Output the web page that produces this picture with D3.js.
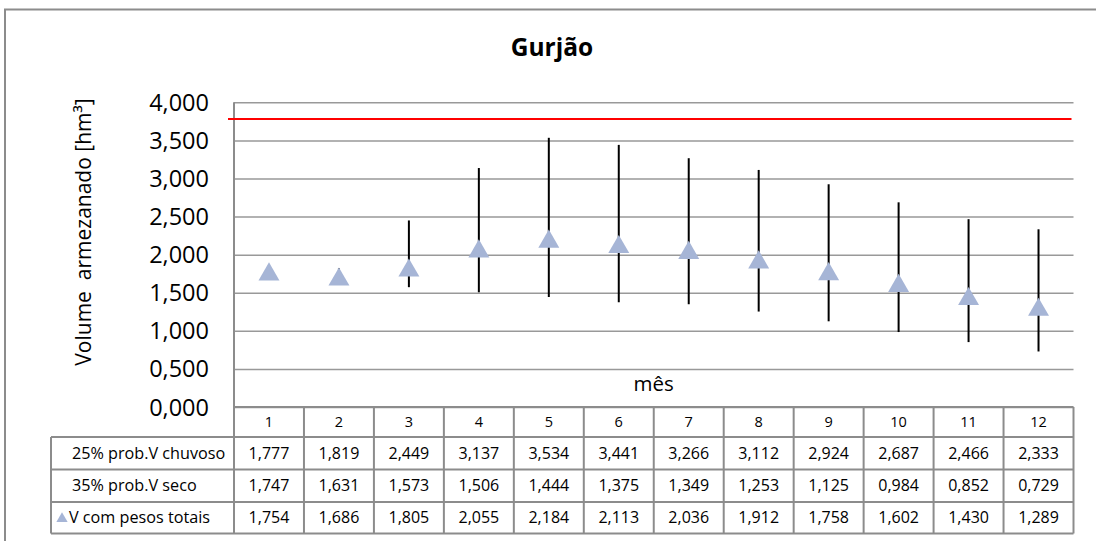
<!DOCTYPE html>
<html><head><meta charset="utf-8">
<script src="https://cdn.jsdelivr.net/npm/d3@7"></script>
<style>
html,body{margin:0;padding:0;background:#fff;overflow:hidden;}
svg{display:block;}
svg text{font-family:"Open Sans","Noto Sans",sans-serif;fill:#000;}
</style></head>
<body><svg id="c" width="1096" height="541"></svg>
<script>
const months = [1,2,3,4,5,6,7,8,9,10,11,12];
const chuvoso = [1777,1819,2449,3137,3534,3441,3266,3112,2924,2687,2466,2333];
const seco = [1747,1631,1573,1506,1444,1375,1349,1253,1125,984,852,729];
const pesos = [1754,1686,1805,2055,2184,2113,2036,1912,1758,1602,1430,1289];
const yTicks = [0,500,1000,1500,2000,2500,3000,3500,4000];
const capacity = 3780;
const rowLabels = ["25% prob.V chuvoso","35% prob.V seco","V com pesos totais"];
const title = "Gurjão";
const yLabel = "Volume  armezanado [hm³]";
const xLabel = "mês";

const svg = d3.select("#c");
const L = 234, R = 1073.5, T = 102.3, B = 407;
const x = d3.scaleBand().domain(months).range([L, R]);
const y = d3.scaleLinear().domain([0, 4000]).range([B, T]);
const loc = d3.formatLocale({decimal: ",", thousands: ".", grouping: [3], currency: ["", ""]});
const fmt = v => loc.format(".3f")(v / 1000);

// outer border (only left and top visible)
svg.append("path").attr("d", "M5,560 L5,9.5 L1120,9.5")
  .attr("fill", "none").attr("stroke", "#8c8c8c").attr("stroke-width", 2);

// title
svg.append("text").attr("x", 552).attr("y", 56).attr("text-anchor", "middle")
  .attr("font-size", 24.5).attr("font-weight", "bold").text(title);

// gridlines + y axis
const yAxis = d3.axisLeft(y).tickValues(yTicks).tickSize(-(R - L)).tickPadding(25)
  .tickFormat(fmt);
const gy = svg.append("g").attr("transform", `translate(${L},0)`).call(yAxis);
gy.select(".domain").remove();
gy.selectAll(".tick line").attr("stroke", "#999").attr("stroke-width", 1.5);
gy.selectAll(".tick text").attr("font-size", 23.5).attr("font-family", "'Open Sans', sans-serif").attr("dy", "0.34em");

// y axis line (extends through table)
svg.append("line").attr("x1", L).attr("x2", L).attr("y1", T).attr("y2", 533.5)
  .attr("stroke", "#8c8c8c").attr("stroke-width", 2);

// y label
svg.append("text").attr("transform", `translate(91,${232}) rotate(-90)`)
  .attr("text-anchor", "middle").attr("font-size", 21).style("white-space", "pre").text(yLabel);

// x label
svg.append("text").attr("x", (L + R) / 2).attr("y", 391).attr("text-anchor", "middle")
  .attr("font-size", 20.5).text(xLabel);

// capacity line
svg.append("line").attr("x1", L - 6).attr("x2", R - 2).attr("y1", y(capacity)).attr("y2", y(capacity))
  .attr("stroke", "#ff0000").attr("stroke-width", 2);

// error bars
svg.append("g").selectAll("line").data(months).join("line")
  .attr("x1", d => x(d) + x.bandwidth() / 2).attr("x2", d => x(d) + x.bandwidth() / 2)
  .attr("y1", (d, i) => y(seco[i])).attr("y2", (d, i) => y(chuvoso[i]))
  .attr("stroke", "#000").attr("stroke-width", 2);

// markers
const tri = d3.symbol().type(d3.symbolTriangle).size(190);
svg.append("g").selectAll("path").data(months).join("path")
  .attr("d", tri)
  .attr("transform", (d, i) => `translate(${x(d) + x.bandwidth() / 2},${y(pesos[i]) + 1})`)
  .attr("fill", "#a6b5d6");

// table
const rowsY = [B, 437, 469.5, 502, 533.5];
const tbl = svg.append("g");
const gridC = "#8c8c8c";
tbl.append("line").attr("x1", L).attr("x2", R).attr("y1", rowsY[0]).attr("y2", rowsY[0]).attr("stroke", gridC).attr("stroke-width", 2);
for (let k = 1; k < rowsY.length; k++) {
  tbl.append("line").attr("x1", 51).attr("x2", R).attr("y1", rowsY[k]).attr("y2", rowsY[k]).attr("stroke", gridC).attr("stroke-width", 2);
}
tbl.append("line").attr("x1", 51).attr("x2", 51).attr("y1", rowsY[1]).attr("y2", rowsY[4]).attr("stroke", gridC).attr("stroke-width", 2);
months.forEach(m => {
  const xr = x(m) + x.bandwidth();
  tbl.append("line").attr("x1", xr).attr("x2", xr).attr("y1", rowsY[0]).attr("y2", rowsY[4]).attr("stroke", gridC).attr("stroke-width", 2);
});
tbl.selectAll("text.h").data(months).join("text").attr("class", "h")
  .attr("x", d => x(d) + x.bandwidth() / 2).attr("y", (rowsY[0] + rowsY[1]) / 2 + 5)
  .attr("text-anchor", "middle").attr("font-size", 14.5).text(d => d);
const series = [chuvoso, seco, pesos];
series.forEach((s, r) => {
  const cy = (rowsY[r + 1] + rowsY[r + 2]) / 2 + 5.5;
  tbl.append("g").selectAll("text").data(months).join("text")
    .attr("x", d => x(d) + x.bandwidth() / 2).attr("y", cy)
    .attr("text-anchor", "middle").attr("font-size", 16).text((d, i) => fmt(s[i]));
  tbl.append("text").attr("x", r === 2 ? 69 : 72).attr("y", cy).attr("font-size", 16.2).text(rowLabels[r]);
});
tbl.append("path").attr("d", d3.symbol().type(d3.symbolTriangle).size(55))
  .attr("transform", `translate(62,${(rowsY[3] + rowsY[4]) / 2 + 1})`).attr("fill", "#a6b5d6");
</script></body></html>
